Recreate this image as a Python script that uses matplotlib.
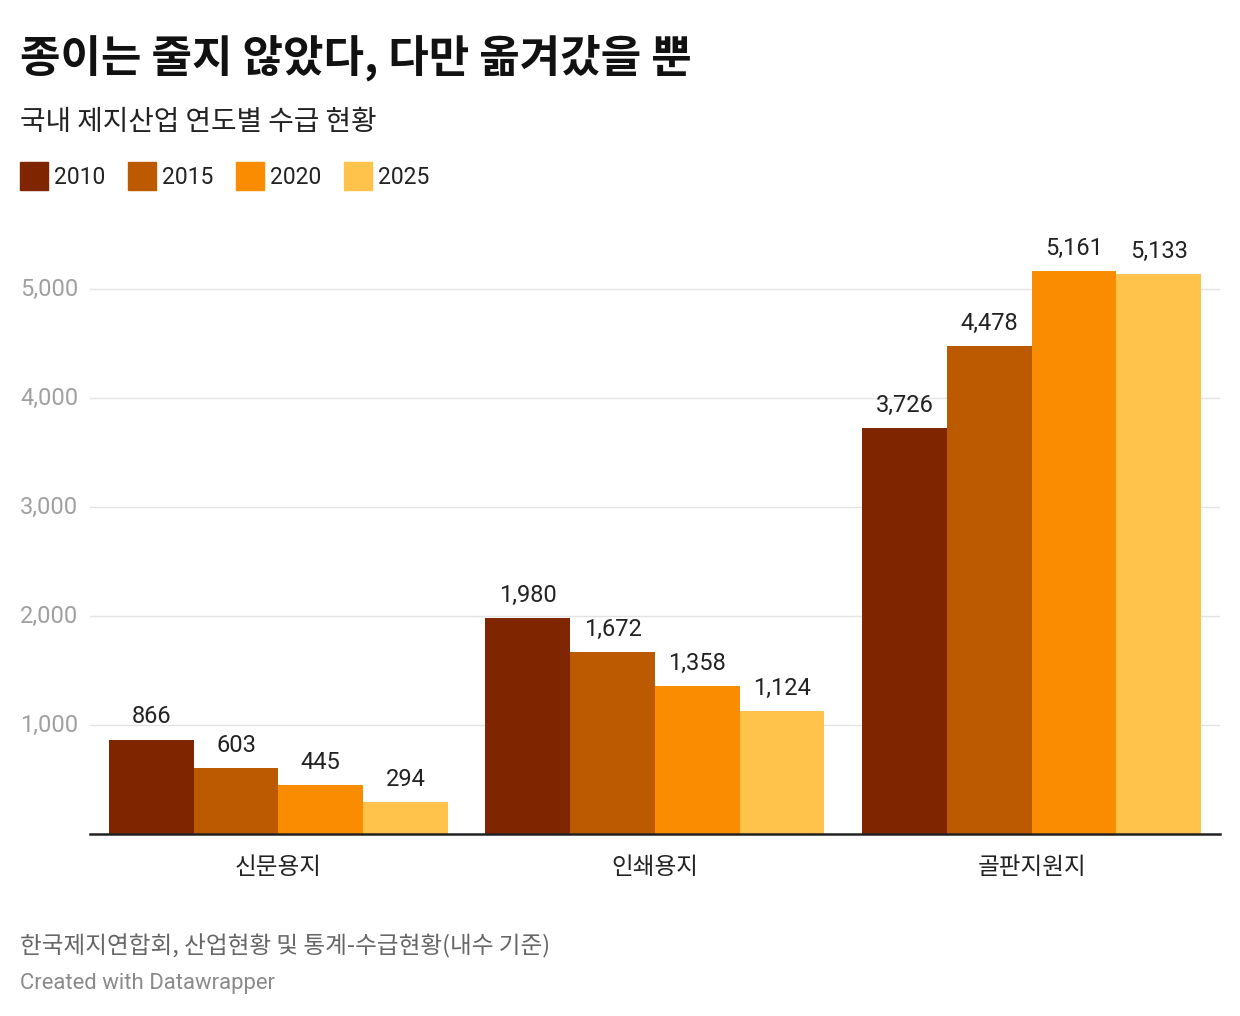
import numpy as np
import matplotlib as mpl
import matplotlib.pyplot as plt
from matplotlib.patches import Rectangle

# data
categories = ['신문용지', '인쇄용지', '골판지원지']
years = ['2010', '2015', '2020', '2025']
values = {
    '2010': [866, 1980, 3726],
    '2015': [603, 1672, 4478],
    '2020': [445, 1358, 5161],
    '2025': [294, 1124, 5133],
}
colors = ['#7f2600', '#bb5a00', '#f98c00', '#ffc24b']
y_ticks = [1000, 2000, 3000, 4000, 5000]

mpl.rcParams['font.family'] = ['Roboto', 'Noto Sans CJK KR', 'DejaVu Sans']

W, H = 1240, 1016
fig = plt.figure(figsize=(W / 100, H / 100), dpi=100)


def fx(px):
    return px / W


def fy(py):
    return 1 - py / H


axes = fig.add_axes([fx(90), fy(834), fx(1220) - fx(90), fy(230) - fy(834)])
axes.set_xlim(-0.5, 2.5)
axes.set_ylim(0, 5541)

x = np.arange(len(categories))
width = 0.225
for i, year in enumerate(years):
    offset = (i - 1.5) * width
    bars = axes.bar(x + offset, values[year], width, color=colors[i],
                    zorder=3)
    axes.bar_label(bars, labels=[f'{v:,}' for v in values[year]],
                   padding=8, fontsize=17, color='#222222')

axes.set_yticks(y_ticks)
axes.set_yticklabels([])
axes.tick_params(axis='y', length=0)
axes.grid(axis='y', color='#e3e3e3', lw=1, zorder=0)
for t in y_ticks:
    axes.text(fx(20), t, f'{t:,}', transform=mpl.transforms.blended_transform_factory(
        fig.transFigure, axes.transData), ha='left', va='center',
        fontsize=17, color='#a0a0a0')

axes.set_xticks(x)
axes.set_xticklabels(categories, fontsize=17, color='#222222',
                     family=['Noto Sans CJK KR'])
axes.tick_params(axis='x', length=0, pad=16)
for s in ['top', 'right', 'left']:
    axes.spines[s].set_visible(False)
axes.spines['bottom'].set_linewidth(1.8)
axes.spines['bottom'].set_color('#222222')
axes.spines['bottom'].set_zorder(4)

# titles
fig.text(fx(20), fy(58), '종이는 줄지 않았다, 다만 옮겨갔을 뿐', fontsize=31.7,
         fontweight='bold', family=['Noto Sans CJK KR'], va='center',
         color='#111111')
fig.text(fx(20), fy(122), '국내 제지산업 연도별 수급 현황', fontsize=20,
         family=['Noto Sans CJK KR'], va='center', color='#222222')

# legend
lx = 20
for i, year in enumerate(years):
    fig.add_artist(Rectangle((fx(lx), fy(190)), fx(28), fy(162) - fy(190),
                             transform=fig.transFigure, color=colors[i]))
    fig.text(fx(lx + 34), fy(177), year, fontsize=16.5, va='center',
             color='#222222')
    lx += 108

# footer
fig.text(fx(20), fy(946), '한국제지연합회, 산업현황 및 통계-수급현황(내수 기준)',
         fontsize=17, style='italic', family=['Noto Sans CJK KR'],
         va='center', color='#666666')
fig.text(fx(20), fy(983), 'Created with Datawrapper', fontsize=15.9,
         va='center', color='#8a8a8a')

plt.savefig('out.png', dpi=100)
plt.close(fig)
